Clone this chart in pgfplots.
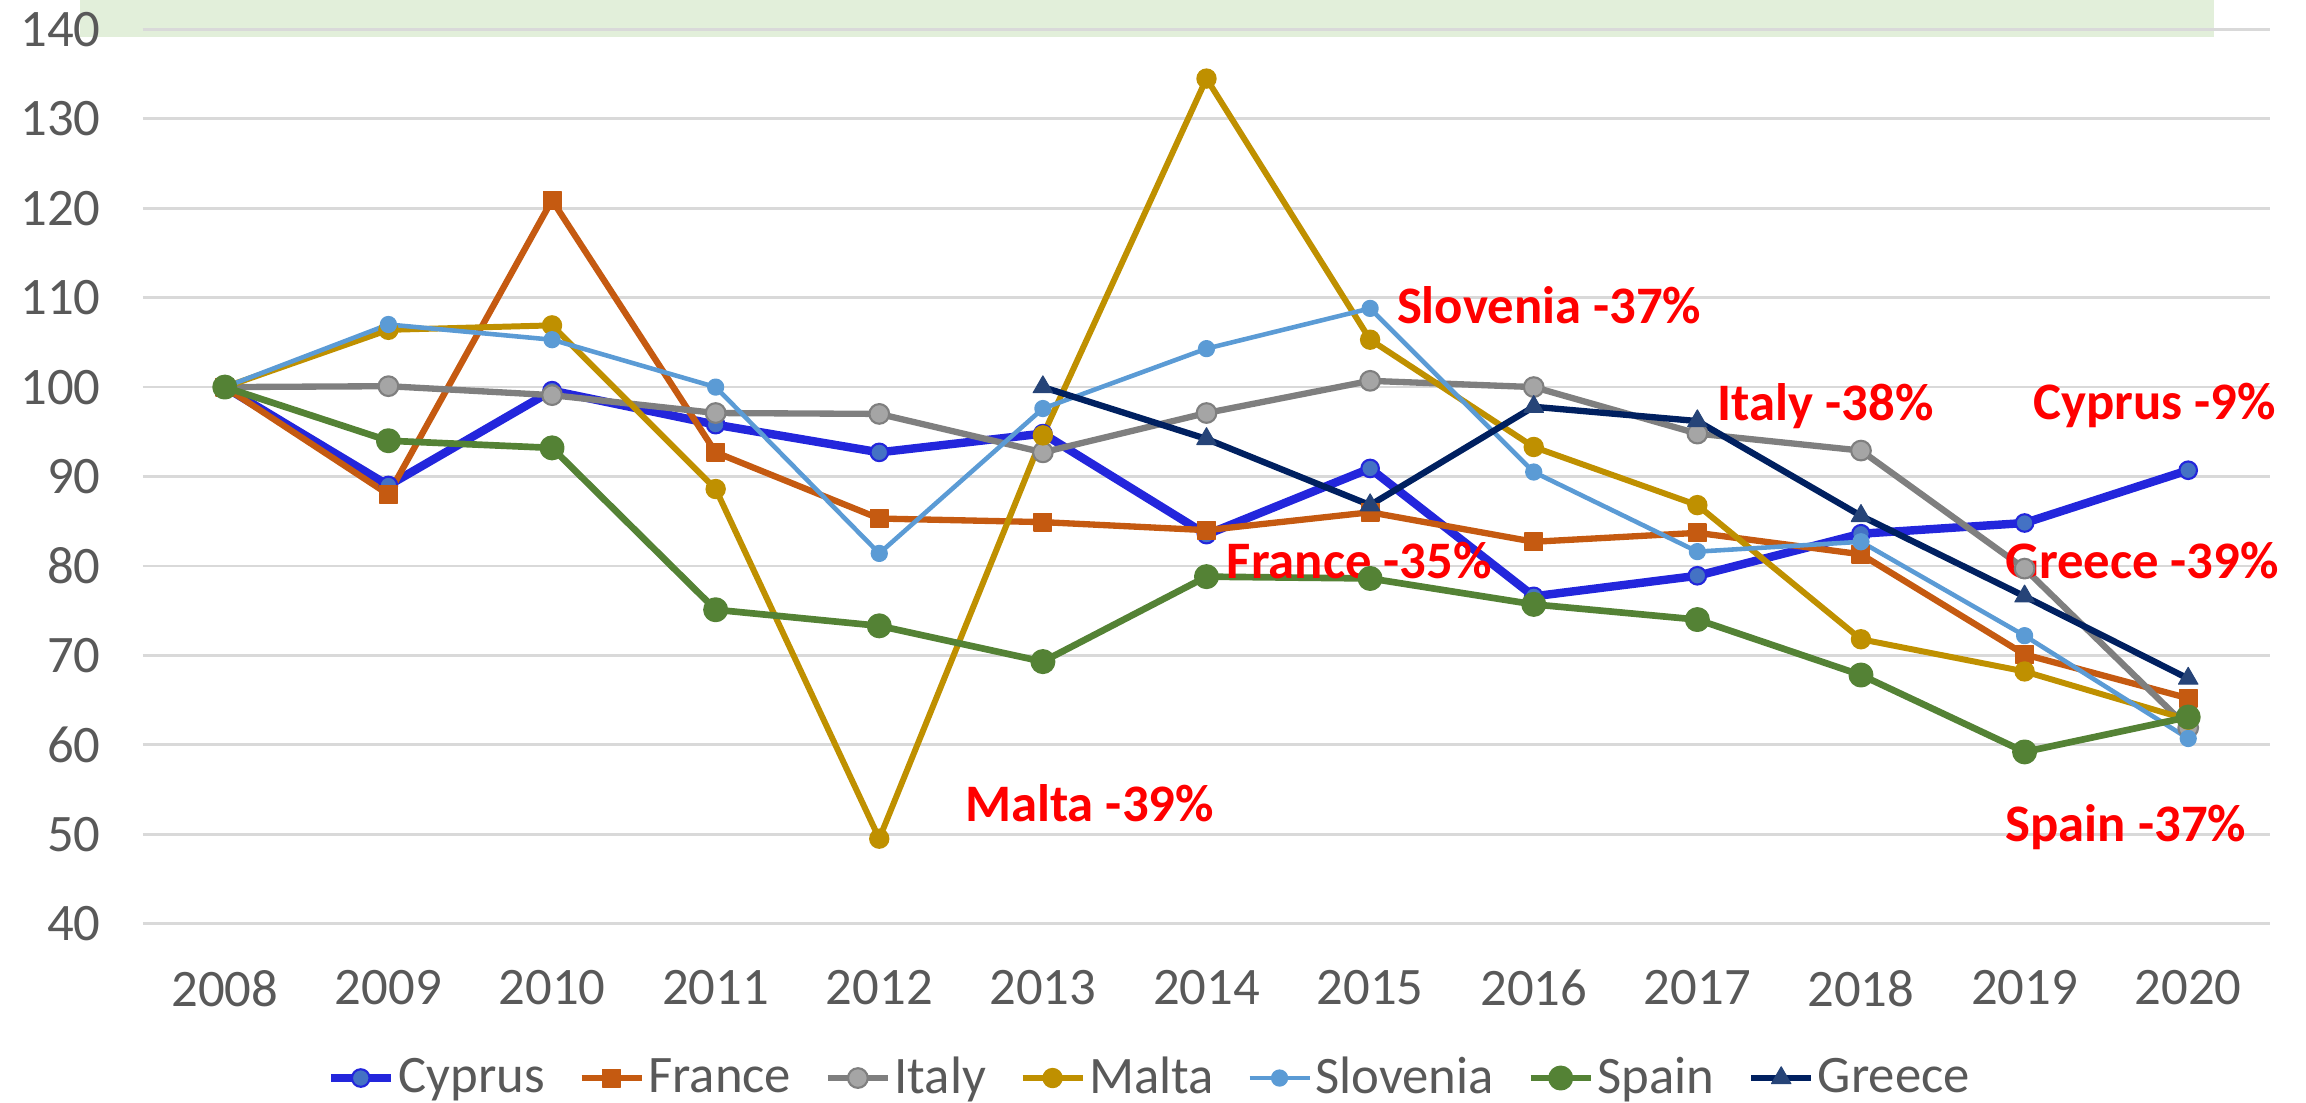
\documentclass[border=0pt]{standalone}
\usepackage{fontspec}
\setmainfont{Carlito}
\usepackage{pgfplots}
\pgfplotsset{compat=1.18}
\definecolor{cBand}{RGB}{226,239,218}
\definecolor{cGrid}{RGB}{217,217,217}
\definecolor{cTxt}{RGB}{89,89,89}
\definecolor{cCyp}{RGB}{35,38,220}
\definecolor{cCypM}{RGB}{68,114,196}
\definecolor{cFra}{RGB}{197,90,17}
\definecolor{cIta}{RGB}{127,127,127}
\definecolor{cItaM}{RGB}{165,165,165}
\definecolor{cMal}{RGB}{191,144,0}
\definecolor{cSlo}{RGB}{91,155,213}
\definecolor{cSpa}{RGB}{84,130,53}
\definecolor{cGre}{RGB}{0,32,96}
\definecolor{cGreM}{RGB}{38,68,120}
\newcommand{\lab}{\fontsize{15}{18}\selectfont}

\begin{document}
\begin{tikzpicture}
\path[use as bounding box] (-1.43cm,-1.784cm) rectangle (21.63cm,9.236cm);
\fill[cBand] (-0.63cm,8.866cm) rectangle (20.71cm,9.236cm);
\begin{axis}[scale only axis, width=21.27cm, height=8.942cm,
  xmin=-0.5, xmax=12.5, ymin=40, ymax=140, clip=false,
  xtick={0,...,12},
  xticklabels={2008,2009,2010,2011,2012,2013,2014,2015,2016,2017,2018,2019,2020},
  ytick={40,50,...,140},
  ymajorgrids, major grid style={cGrid,line width=0.8pt},
  axis line style={draw=none}, major tick length=0pt,
  /pgf/number format/assume math mode=true,
  tick label style={font=\lab, text=cTxt},
  xticklabel style={yshift=-0.34cm},
  yticklabel style={xshift=-0.3cm},
  legend columns=-1,
  legend style={at={(0.4734,-0.1727)}, anchor=center, draw=none, font=\lab, text=cTxt,
    nodes={inner xsep=1pt},
    /tikz/every even column/.append style={column sep=0.3cm}},
  every axis plot/.append style={line join=round}]
\addplot[cCyp, line width=2.4pt, mark=*, mark size=2.5pt, mark options={fill=cCypM, draw=cCyp, line width=0.6pt}]
  coordinates {(0,100) (1,89.0) (2,99.6) (3,95.8) (4,92.7) (5,94.8) (6,83.5) (7,90.9) (8,76.6) (9,78.9) (10,83.6) (11,84.8) (12,90.7)};
\addlegendentry{Cyprus}
\addplot[cFra, line width=1.8pt, mark=square*, mark size=2.5pt, mark options={fill=cFra, draw=cFra, line width=0.4pt}]
  coordinates {(0,100) (1,88.0) (2,120.9) (3,92.7) (4,85.3) (5,84.9) (6,84.0) (7,86.0) (8,82.7) (9,83.7) (10,81.3) (11,70.1) (12,65.2)};
\addlegendentry{France}
\addplot[cIta, line width=1.8pt, mark=*, mark size=2.8pt, mark options={fill=cItaM, draw=cIta, line width=0.6pt}]
  coordinates {(0,100) (1,100.1) (2,99.1) (3,97.1) (4,97.0) (5,92.7) (6,97.1) (7,100.7) (8,100.0) (9,94.8) (10,92.9) (11,79.7) (12,61.9)};
\addlegendentry{Italy}
\addplot[cMal, line width=1.7pt, mark=*, mark size=2.7pt, mark options={fill=cMal, draw=cMal, line width=0.4pt}]
  coordinates {(0,100) (1,106.4) (2,106.9) (3,88.6) (4,49.5) (5,94.6) (6,134.5) (7,105.3) (8,93.3) (9,86.8) (10,71.8) (11,68.2) (12,62.8)};
\addlegendentry{Malta}
\addplot[cSlo, line width=1.3pt, mark=*, mark size=1.8pt, mark options={fill=cSlo, draw=cSlo}]
  coordinates {(0,100) (1,107.0) (2,105.3) (3,100.0) (4,81.4) (5,97.6) (6,104.3) (7,108.8) (8,90.5) (9,81.6) (10,82.7) (11,72.2) (12,60.7)};
\addlegendentry{Slovenia}
\addplot[cSpa, line width=1.9pt, mark=*, mark size=2.6pt, mark options={fill=cSpa, draw=cSpa}]
  coordinates {(0,100) (1,94.0) (2,93.2) (3,75.1) (4,73.3) (5,69.3) (6,78.8) (7,78.6) (8,75.7) (9,74.0) (10,67.8) (11,59.2) (12,63.1)};
\addlegendentry{Spain}
\addplot[cGre, line width=1.8pt, mark=triangle*, mark size=3.2pt, mark options={fill=cGreM, draw=cGreM, line width=0.3pt}]
  coordinates {(5,100.0) (6,94.2) (7,86.8) (8,97.8) (9,96.2) (10,85.6) (11,76.6) (12,67.4)};
\addlegendentry{Greece}
\begin{scope}[every node/.style={anchor=west, inner sep=0pt, text=red, font=\lab\bfseries}]
\node at (axis cs:7.16,109.1) {Slovenia -37\%};
\node at (axis cs:9.12,97.9) {Italy -38\%};
\node at (axis cs:11.05,97.9) {Cyprus -9\%};
\node at (axis cs:6.12,80.6) {France -35\%};
\node at (axis cs:10.88,80.6) {Greece -39\%};
\node at (axis cs:4.52,53.5) {Malta -39\%};
\node at (axis cs:10.88,50.8) {Spain -37\%};
\end{scope}
\end{axis}
\end{tikzpicture}
\end{document}
